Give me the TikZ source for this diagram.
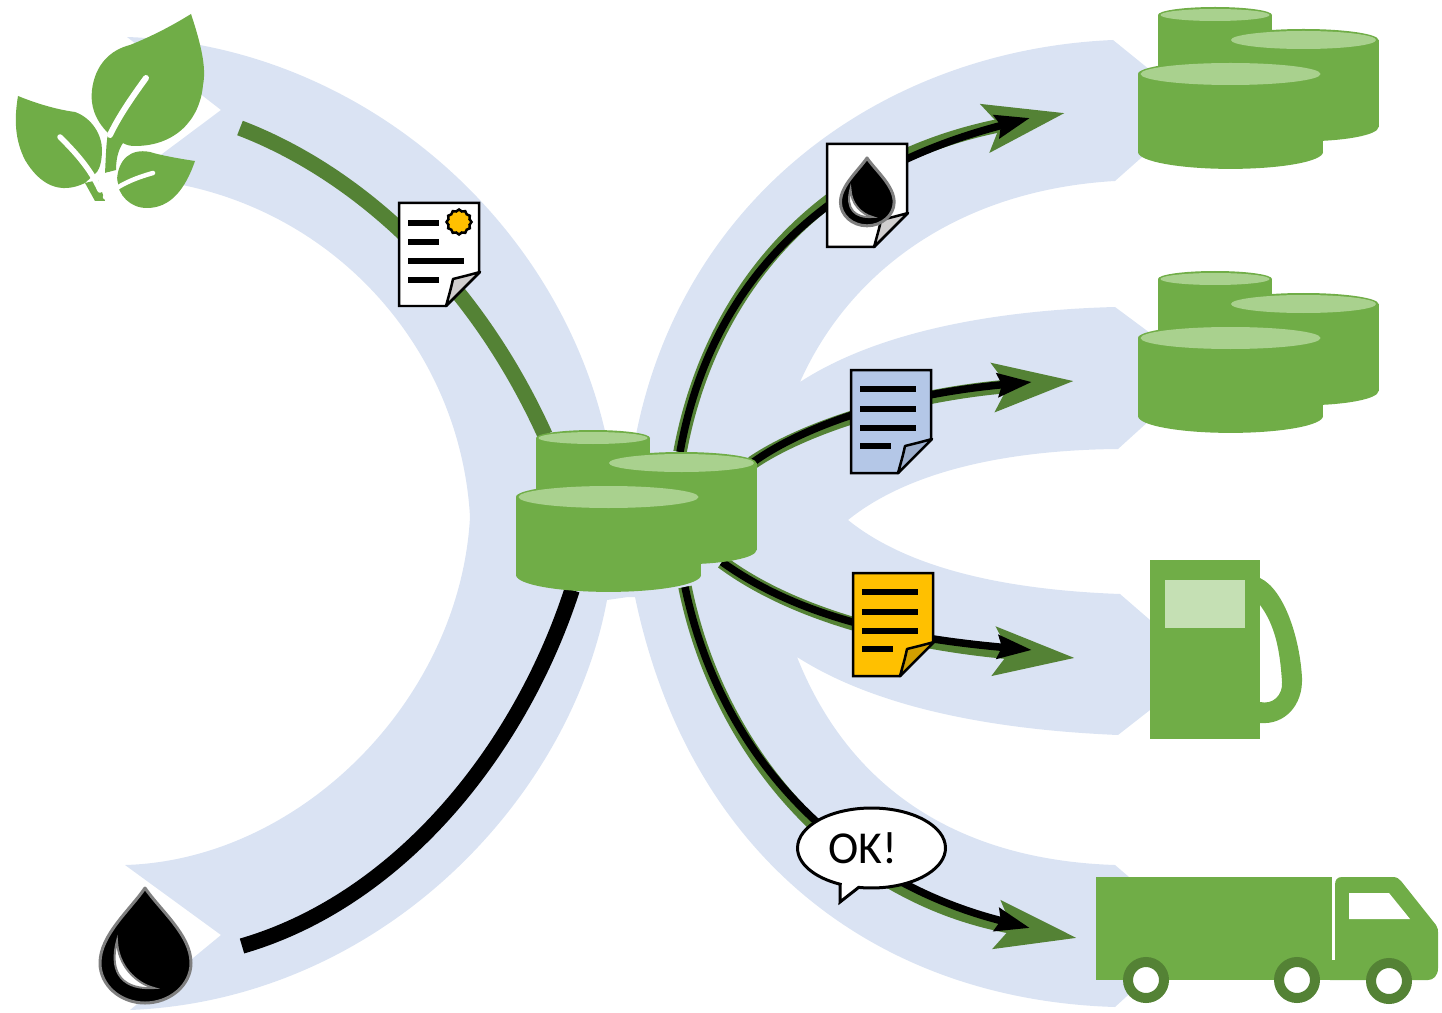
\documentclass[tikz,border=0pt]{standalone}
\usepackage{fontspec}
\setmainfont{Carlito}
\usetikzlibrary{arrows.meta,shapes.geometric,shapes.callouts}
\definecolor{bandblue}{HTML}{DAE3F3}
\definecolor{leafgreen}{HTML}{70AD47}
\definecolor{litegreen}{HTML}{A9D18E}
\definecolor{palegreen}{HTML}{C5E0B4}
\definecolor{darkgreen}{HTML}{548235}
\definecolor{sheetblue}{HTML}{B4C7E7}
\definecolor{foldblue}{HTML}{9DAECC}
\definecolor{sheetgold}{HTML}{FFC000}
\definecolor{foldgold}{HTML}{D29F00}
\definecolor{foldgrey}{HTML}{D0CECE}
\definecolor{dropgrey}{HTML}{7F7F7F}
\tikzset{
	band/.style={fill=bandblue},
	greenflow/.style={line width=0.27cm,darkgreen},
	blackflow/.style={line width=0.15cm,black},
	greenhead/.style={greenflow,-{Stealth[length=1.6cm,width=0.95cm,inset=0.28cm]}},
	blackhead/.style={blackflow,-{Stealth[length=0.68cm,width=0.46cm,inset=0.08cm]}},
	textline/.style={line width=0.11cm,black},
	pics/tanks/.style={code={
		\foreach \cx/\cy/\rx/\ry/\low in {593/438/57/8/500, 681.5/463/75/11/550, 608.5/497/92.5/13/575}{
			\fill[leafgreen] (\cx-\rx,\cy) rectangle (\cx+\rx,\low);
			\fill[leafgreen] (\cx,\low) ellipse [x radius=\rx*0.02cm,y radius=\ry*1.3*0.02cm];
			\fill[leafgreen] (\cx,\cy) ellipse [x radius=\rx*0.02cm,y radius=\ry*0.02cm];
			\fill[litegreen] (\cx,\cy) ellipse [x radius=(\rx-2.5)*0.02cm,y radius=(\ry-2)*0.02cm];
		}
	}},
	pics/drop/.style={code={
		\filldraw[fill=black,draw=dropgrey,line width=0.06cm,line join=round] (0,-67) .. controls (-15,-45) and (-45,-20) .. (-45,8) .. controls (-45,30) and (-25,48) .. (0,48) .. controls (25,48) and (46,30) .. (46,8) .. controls (46,-20) and (15,-45) .. (0,-67) -- cycle;
		\filldraw[fill=white,draw=dropgrey,line width=0.04cm] (-28,-14) .. controls (-37,20) and (-20,35) .. (9,33) .. controls (-10,28) and (-27,10) .. (-28,-14) -- cycle;
	}},
	pics/sheet/.style 2 args={code={
		\filldraw[fill=#1,draw=black,line width=0.05cm] (0,0) -- (80,0) -- (80,69) -- (47,103) -- (0,103) -- cycle;
		\filldraw[fill=#2,draw=black,line width=0.05cm,line join=round] (81,69) .. controls (70,72) .. (54,76) .. controls (52,85) .. (47,103) -- cycle;
	}},
	pics/linedsheet/.style 2 args={code={
		\pic at (0,0) {sheet={#1}{#2}};
		\foreach \ly/\lx in {19/65, 39/65, 58/65, 76/40}
			\draw[textline] (9,\ly) -- (\lx,\ly);
	}}
}
\begin{document}
\begin{tikzpicture}[x=0.02cm,y=-0.02cm]
	\useasboundingbox (0,0) rectangle (1442,1013);
	% blue bands
	\fill[band] (127,37) -- (221,110) -- (130,178) .. controls (320,190) and (460,340) .. (470,517) .. controls (460,700) and (300,860) .. (125,865) -- (221,935) -- (130,1010) .. controls (380,1000) and (570,800) .. (607,600) -- (628,597) -- (640,597) -- (640,440) -- (607,440) .. controls (560,220) and (360,45) .. (127,37) -- cycle;
	\fill[band] (1113,40) -- (1150,70) -- (1150,150) -- (1115,181) .. controls (960,190) and (850,270) .. (800,382) .. controls (880,330) and (1000,310) .. (1115,307) -- (1150,333) -- (1150,420) -- (1118,449) .. controls (1010,450) and (910,470) .. (848,520) .. controls (910,570) and (1010,590) .. (1120,594) -- (1150,620) -- (1150,710) -- (1118,735) .. controls (1000,730) and (880,710) .. (797,657) .. controls (850,790) and (960,860) .. (1115,865) -- (1150,895) -- (1150,975) -- (1115,1007) .. controls (880,1000) and (690,860) .. (635,597) -- (635,440) .. controls (680,200) and (880,50) .. (1113,40) -- cycle;
	% flow ends
	\coordinate (leaf out) at (240,128);
	\coordinate (oil out) at (242,946);
	\coordinate (hub in top) at (545,435);
	\coordinate (hub in low) at (572,590);
	\coordinate (hub up) at (680,452);
	\coordinate (hub right) at (752,463);
	\coordinate (hub down) at (722,562);
	\coordinate (hub low) at (685,587);
	\draw[line width=0.31cm,darkgreen] (leaf out) .. controls (350,170) and (470,270) .. (hub in top);
	\draw[line width=0.31cm,black] (oil out) .. controls (400,900) and (520,750) .. (hub in low);
	\draw[greenhead] (hub up) .. controls (710,290) and (820,160) .. (1065,113);
	\draw[blackhead] (hub up) .. controls (708,295) and (810,175) .. (1030,118);
	\draw[greenhead] (hub right) .. controls (800,430) and (900,395) .. (1074,381);
	\draw[blackhead] (hub right) .. controls (800,428) and (890,395) .. (1032,382);
	\draw[greenhead] (hub down) .. controls (800,620) and (920,645) .. (1075,658);
	\draw[blackhead] (hub down) .. controls (800,618) and (900,638) .. (1032,650);
	\draw[greenhead] (hub low) .. controls (720,760) and (850,900) .. (1077,938);
	\draw[blackhead] (hub low) .. controls (720,755) and (840,880) .. (1030,928);
	% tanks
	\pic at (0,0) {tanks};
	\pic at (622,-423) {tanks};
	\pic at (622,-159) {tanks};
	% sheets
	\pic at (399,203) {sheet={white}{foldgrey}};
	\foreach \ly/\lx in {20/40, 39/40, 58/65, 77/40}
		\draw[textline,shift={(399,203)}] (9,\ly) -- (\lx,\ly);
	\node[star,star points=12,star point ratio=1.15,draw=black,line width=0.05cm,fill=sheetgold,minimum size=0.5cm,inner sep=0pt] (seal) at (459,222) {};
	\pic at (827,144) {sheet={white}{foldgrey}};
	\pic[scale=0.59] at (867,197.5) {drop};
	\pic at (851,370) {linedsheet={sheetblue}{foldblue}};
	\pic at (853,573) {linedsheet={sheetgold}{foldgold}};
	% oil drop
	\pic at (145,955) {drop};
	% plant
	\fill[leafgreen] (191,14) .. controls (203,50) and (206,70) .. (203,85) .. controls (200,120) and (175,146) .. (135,146) .. controls (130,146) and (126,145) .. (123,143) .. controls (118,150) and (116,160) .. (116,170) -- (105,173) .. controls (106,155) and (106,145) .. (108,133) .. controls (95,120) and (90,105) .. (92,90) .. controls (95,65) and (110,50) .. (130,45) .. controls (150,37) and (170,27) .. (191,14) -- cycle;
	\fill[leafgreen] (18,96) .. controls (40,105) and (60,110) .. (75,112) .. controls (92,118) and (102,135) .. (102,150) .. controls (102,160) and (100,168) .. (97,172) -- (85,183) .. controls (60,195) and (40,185) .. (25,160) .. controls (15,140) and (14,120) .. (18,96) -- cycle;
	\fill[leafgreen] (195,161) .. controls (175,158) and (160,155) .. (150,152) .. controls (130,148) and (118,160) .. (117,180) .. controls (118,195) and (130,208) .. (147,208) .. controls (170,208) and (185,190) .. (195,161) -- cycle;
	\fill[leafgreen] (85,183) -- (95,201) -- (105,201) -- (98,180) -- cycle;
	\draw[white,line width=0.12cm,line cap=round] (146,78) .. controls (130,100) and (118,118) .. (110,135);
	\draw[white,line width=0.11cm,line cap=round] (60,137) .. controls (75,152) and (90,168) .. (100,190);
	\draw[white,line width=0.09cm,line cap=round] (153,173) .. controls (135,178) and (118,185) .. (105,197);
	\fill[white] (97,172) -- (105,173) -- (116,171) -- (118,185) -- (106,196) -- cycle;
	% pump
	\fill[leafgreen] (1150,560) rectangle (1260,739);
	\fill[palegreen] (1165,580) rectangle (1245,628);
	\fill[leafgreen] (1260,578) .. controls (1285,590) and (1300,640) .. (1302,678) .. controls (1303,705) and (1285,725) .. (1260,723) -- (1260,702) .. controls (1273,705) and (1283,695) .. (1282,682) .. controls (1280,650) and (1275,625) .. (1260,605) -- cycle;
	% truck
	\fill[leafgreen] (1096,877) rectangle (1332,980);
	\fill[leafgreen] (1335,960) -- (1335,885) .. controls (1335,880) and (1337,877) .. (1342,877) -- (1393,877) .. controls (1397,877) and (1399,879) .. (1401,881) -- (1436,925) .. controls (1438,928) and (1438,930) .. (1438,934) -- (1438,968) .. controls (1438,976) and (1433,980) .. (1428,980) -- (1330,980) -- (1330,960) -- cycle;
	\fill[white] (1349,893) -- (1389,893) -- (1410,919) -- (1349,919) -- cycle;
	\foreach \wx/\wy in {1146/980, 1297/980, 1389/981}{
		\filldraw[draw=darkgreen,fill=white,line width=0.2cm] (\wx,\wy) circle (0.36cm);
	}
	% bubble
	\node[ellipse callout,draw=black,line width=0.06cm,fill=white,minimum width=2.96cm,minimum height=1.6cm,inner sep=0pt,callout absolute pointer={(840,902)},font=\fontsize{26}{26}\selectfont] (okbubble) at (871.5,848) {OK!\kern0.34cm};
\end{tikzpicture}
\end{document}
